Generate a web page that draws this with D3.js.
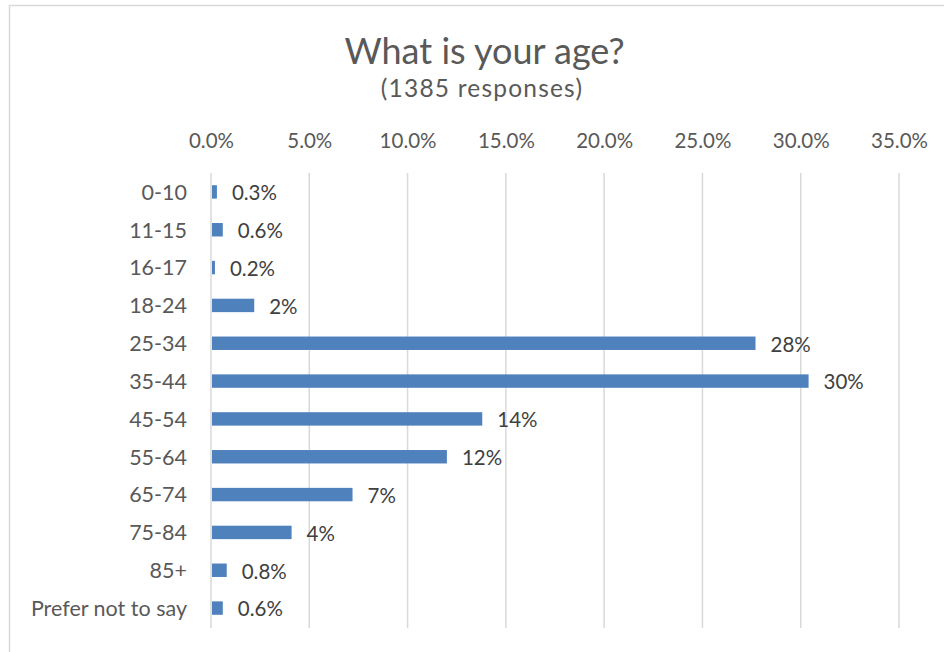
<!DOCTYPE html>
<html><head><meta charset="utf-8">
<script src="https://cdn.jsdelivr.net/npm/d3@7"></script>
<style>
html,body{margin:0;padding:0;background:#fff;}
svg{display:block;font-family:Lato,"Open Sans",sans-serif;}
</style></head>
<body><svg id="c" width="944" height="652"></svg>
<script>
const categories = ["0-10","11-15","16-17","18-24","25-34","35-44","45-54","55-64","65-74","75-84","85+","Prefer not to say"];
const values = [0.3,0.6,0.2,2.2,27.7,30.4,13.8,12.0,7.2,4.1,0.8,0.6];
const valueLabels = ["0.3%","0.6%","0.2%","2%","28%","30%","14%","12%","7%","4%","0.8%","0.6%"];
const tickValues = [0,5,10,15,20,25,30,35];
const title = "What is your age?";
const subtitle = "(1385 responses)";

const svg = d3.select("#c");
// chart frame
svg.append("rect").attr("x",9.5).attr("y",5.5).attr("width",960).attr("height",660)
  .attr("fill","#fff").attr("stroke","#d9d9d9").attr("stroke-width",1.5);

const x = d3.scaleLinear().domain([0,35]).range([211,899]);
const y = d3.scaleBand().domain(categories).range([173,627]).paddingInner(0.645).paddingOuter(0.3225);

svg.append("text").attr("x",484.5).attr("y",64).attr("text-anchor","middle")
  .attr("font-size",36).attr("fill","#595959").text(title);
svg.append("text").attr("x",482).attr("y",97).attr("text-anchor","middle")
  .attr("font-size",24.5).attr("letter-spacing",1.2).attr("fill","#595959").text(subtitle);

// gridlines
svg.append("g").selectAll("line").data(tickValues).join("line")
  .attr("x1",d=>x(d)).attr("x2",d=>x(d)).attr("y1",173).attr("y2",628)
  .attr("stroke","#d9d9d9").attr("stroke-width",1.5);

// top axis labels
const ax = svg.append("g").attr("transform","translate(0,148)")
  .call(d3.axisTop(x).tickValues(tickValues).tickFormat(d=>d3.format(".1f")(d)+"%").tickSize(0).tickPadding(0));
ax.attr("font-family",null).attr("font-size",null);
ax.select(".domain").remove();
ax.selectAll("text").attr("font-size",20.5).attr("fill","#595959").attr("dy",0);

// category axis
const ay = svg.append("g").attr("transform","translate(211,0)")
  .call(d3.axisLeft(y).tickSize(0).tickPadding(24));
ay.attr("font-family",null).attr("font-size",null);
ay.select(".domain").remove();
ay.selectAll("text").attr("font-size",21.5).attr("fill","#595959").attr("dy","0.36em");

// bars
svg.append("g").selectAll("rect").data(values).join("rect")
  .attr("x",x(0)+1).attr("y",(d,i)=>y(categories[i]))
  .attr("width",d=>x(d)-x(0)-1).attr("height",y.bandwidth())
  .attr("fill","#4f81bd");

// value labels
svg.append("g").selectAll("text").data(values).join("text")
  .attr("x",d=>x(d)+15).attr("y",(d,i)=>y(categories[i])+y.bandwidth()/2+1)
  .attr("dy","0.36em").attr("font-size",20.5).attr("fill","#404040")
  .text((d,i)=>valueLabels[i]);
</script></body></html>
